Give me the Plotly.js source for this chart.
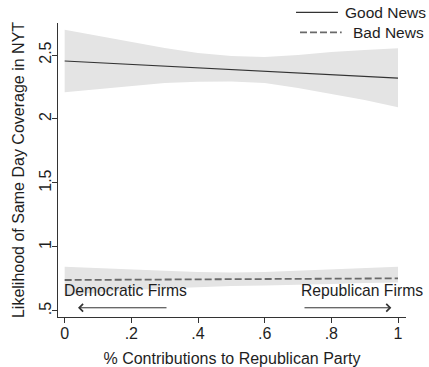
<!DOCTYPE html>
<html>
<head>
<meta charset="utf-8">
<script src="https://cdn.plot.ly/plotly-3.0.1.min.js"></script>
<style>
  html, body { margin: 0; padding: 0; background: #fff; }
  #chart { width: 429px; height: 367px; }
</style>
</head>
<body>
<div id="chart"></div>
<script>
// Share of contributions going to the Republican party
const contribShare = [0, 0.1, 0.2, 0.3, 0.4, 0.5, 0.6, 0.7, 0.8, 0.9, 1.0];

// Predicted likelihood of same-day NYT coverage, good news, with 95% CI
const goodFit   = [2.453, 2.440, 2.426, 2.413, 2.400, 2.387, 2.373, 2.360, 2.346, 2.333, 2.320];
const goodUpper = [2.698, 2.648, 2.602, 2.555, 2.516, 2.492, 2.484, 2.500, 2.523, 2.539, 2.552];
const goodLower = [2.209, 2.234, 2.258, 2.281, 2.291, 2.293, 2.281, 2.242, 2.195, 2.148, 2.091];

// Same for bad news
const badFit   = [0.742, 0.743, 0.745, 0.746, 0.747, 0.749, 0.750, 0.751, 0.752, 0.754, 0.755];
const badUpper = [0.846, 0.836, 0.824, 0.815, 0.805, 0.801, 0.805, 0.813, 0.824, 0.836, 0.846];
const badLower = [0.625, 0.645, 0.664, 0.676, 0.688, 0.695, 0.699, 0.703, 0.711, 0.719, 0.723];

// Axis ticks
const xTickVals = [0, 0.2, 0.4, 0.6, 0.8, 1];
const xTickText = ['0', '.2', '.4', '.6', '.8', '1'];
const yTickVals = [0.5, 1, 1.5, 2, 2.5];
const yTickText = ['.5', '1', '1.5', '2', '2.5'];

const FONT = 'Liberation Sans, Arial, Helvetica, sans-serif';
const TEXT = '#1e1e1e';
const BAND = '#e4e4e4';

// Closed polygon for a confidence band
function band(lower, upper, name) {
  return {
    x: contribShare.concat(contribShare.slice().reverse()),
    y: lower.concat(upper.slice().reverse()),
    type: 'scatter', mode: 'lines', fill: 'toself',
    fillcolor: BAND, line: { width: 0 },
    hoverinfo: 'skip', showlegend: false, name: name
  };
}

const traces = [
  band(goodLower, goodUpper, 'Good News CI'),
  band(badLower, badUpper, 'Bad News CI'),
  {
    x: contribShare, y: goodFit, type: 'scatter', mode: 'lines',
    name: 'Good News', showlegend: false,
    line: { color: '#333333', width: 1.2 }
  },
  {
    x: contribShare, y: badFit, type: 'scatter', mode: 'lines',
    name: 'Bad News', showlegend: false,
    line: { color: '#6a6a6a', width: 1.8, dash: '7px,3px' }
  }
];

const layout = {
  width: 429, height: 367,
  margin: { l: 58, r: 23, t: 23, b: 50 },
  paper_bgcolor: '#ffffff', plot_bgcolor: '#ffffff',
  font: { family: FONT, color: TEXT, size: 16 },
  showlegend: false,
  xaxis: {
    range: [-0.02, 1.024],
    tickvals: xTickVals, ticktext: xTickText,
    ticks: 'outside', ticklen: 5, tickcolor: '#333', tickwidth: 1,
    ticklabelstandoff: -3,
    showline: true, linecolor: '#333', linewidth: 1,
    showgrid: false, zeroline: false,
    tickfont: { size: 16, color: TEXT },
    title: { text: '% Contributions to Republican Party', font: { size: 16, color: TEXT }, standoff: 12 }
  },
  yaxis: {
    range: [0.453, 2.75],
    tickvals: yTickVals, ticktext: yTickText,
    tickangle: -90,
    ticks: 'outside', ticklen: 5, tickcolor: '#333', tickwidth: 1,
    ticklabelstandoff: -5,
    showline: true, linecolor: '#333', linewidth: 1,
    showgrid: false, zeroline: false,
    tickfont: { size: 16, color: TEXT },
    title: { text: 'Likelihood of Same Day Coverage in NYT', font: { size: 16, color: TEXT }, standoff: 7 }
  },
  shapes: [
    // legend keys
    { type: 'line', xref: 'paper', yref: 'paper', x0: 0.684, x1: 0.8046, y0: 1.0364, y1: 1.0364,
      line: { color: '#333333', width: 1.2 } },
    { type: 'line', xref: 'paper', yref: 'paper', x0: 0.6954, x1: 0.8152, y0: 0.9684, y1: 0.9684,
      line: { color: '#6a6a6a', width: 1.8, dash: '7px,3px' } }
  ],
  annotations: [
    { xref: 'paper', yref: 'paper', x: 0.8267, y: 1.0364, xanchor: 'left', yanchor: 'middle', xshift: -3,
      text: 'Good News', showarrow: false, font: { size: 15.5, color: TEXT } },
    { xref: 'paper', yref: 'paper', x: 0.8500, y: 0.9684, xanchor: 'left', yanchor: 'middle', xshift: -3,
      text: 'Bad News', showarrow: false, font: { size: 15.5, color: TEXT } },
    { xref: 'x', yref: 'y', x: 0, y: 0.66, xanchor: 'left', yanchor: 'middle', xshift: -3,
      text: 'Democratic Firms', showarrow: false, font: { size: 15.7, color: TEXT } },
    { xref: 'x', yref: 'y', x: 0.712, y: 0.66, xanchor: 'left', yanchor: 'middle', xshift: -3,
      text: 'Republican Firms', showarrow: false, font: { size: 15.7, color: TEXT } },
    // direction arrows
    { xref: 'x', yref: 'y', axref: 'x', ayref: 'y', x: 0.04, y: 0.525, ax: 0.31, ay: 0.525,
      text: '', showarrow: true, arrowhead: 4, arrowsize: 1.5, arrowwidth: 1, arrowcolor: '#333' },
    { xref: 'x', yref: 'y', axref: 'x', ayref: 'y', x: 0.98, y: 0.525, ax: 0.715, ay: 0.525,
      text: '', showarrow: true, arrowhead: 4, arrowsize: 1.5, arrowwidth: 1, arrowcolor: '#333' }
  ]
};

Plotly.newPlot('chart', traces, layout, { displayModeBar: false, staticPlot: true });
</script>
</body>
</html>
